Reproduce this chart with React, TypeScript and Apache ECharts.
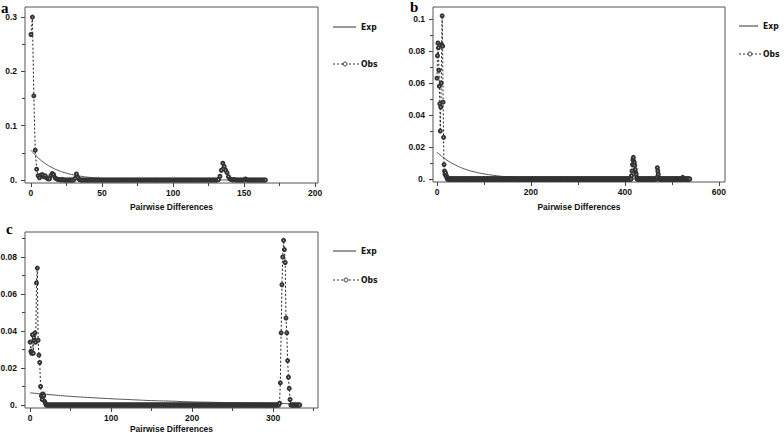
import React, { useEffect, useRef } from 'react';
import * as echarts from 'echarts';

// ---------- Panel a ----------
const obsA = [
  0.268, 0.3, 0.155, 0.055, 0.02, 0.008, 0.004, 0.009, 0.01, 0.006,
  0.008, 0.004, 0.002, 0.002, 0.008, 0.012, 0.01, 0.004, 0.002, 0.001,
  0.001, 0, 0.001, 0, 0, 0, 0, 0, 0, 0,
  0, 0.003, 0.011, 0.005, 0.001, 0, 0, 0, 0, 0,
  0, 0, 0, 0, 0, 0, 0, 0, 0, 0,
  0, 0, 0, 0, 0, 0, 0, 0, 0, 0,
  0, 0, 0, 0, 0, 0, 0, 0, 0, 0,
  0, 0, 0, 0, 0, 0, 0, 0, 0, 0,
  0, 0, 0, 0, 0, 0, 0, 0, 0, 0,
  0, 0, 0, 0, 0, 0, 0, 0, 0, 0,
  0, 0, 0, 0, 0, 0, 0, 0, 0, 0,
  0, 0, 0, 0, 0, 0, 0, 0, 0, 0,
  0, 0, 0, 0, 0, 0, 0, 0, 0, 0,
  0, 0, 0.001, 0.007, 0.018, 0.031, 0.025, 0.018, 0.0135, 0.006,
  0.002, 0.001, 0, 0.001, 0, 0, 0, 0, 0, 0,
  0, 0.002, 0, 0, 0, 0, 0, 0, 0, 0,
  0, 0, 0, 0, 0, 0,
];
const expAX = [0, 5, 10, 15, 20, 25, 30, 35, 40, 45, 50, 55, 60, 70, 80, 100, 165];
const expAY = [0.055, 0.041, 0.0305, 0.0227, 0.0169, 0.0126, 0.0094, 0.007, 0.0052, 0.0039, 0.0029, 0.0021, 0.0016, 0.0009, 0.0005, 0.0002, 0];
const xTicksA = [0, 50, 100, 150, 200];
const xMinorA = [25, 75, 125, 175];
const yTicksA = [0, 0.1, 0.2, 0.3];
const yMinorA = [0.05, 0.15, 0.25];

// ---------- Panel b ----------
const obsB = [
  0.063, 0.077, 0.085, 0.082, 0.068, 0.058, 0.047, 0.03, 0.045, 0.06,
  0.084, 0.102, 0.083, 0.048, 0.026, 0.009, 0.005, 0.003, 0.004, 0.002,
  0.002, 0.001, 0, 0, 0, 0, 0, 0, 0, 0,
  0, 0, 0, 0, 0, 0, 0, 0, 0, 0,
  0, 0, 0, 0, 0, 0, 0, 0, 0, 0,
  0, 0, 0, 0, 0, 0, 0, 0, 0, 0,
  0, 0, 0, 0, 0, 0, 0, 0, 0, 0,
  0, 0, 0, 0, 0, 0, 0, 0, 0, 0,
  0, 0, 0, 0, 0, 0, 0, 0, 0, 0,
  0, 0, 0, 0, 0, 0, 0, 0, 0, 0,
  0, 0, 0, 0, 0, 0, 0, 0, 0, 0,
  0, 0, 0, 0, 0, 0, 0, 0, 0, 0,
  0, 0, 0, 0, 0, 0, 0, 0, 0, 0,
  0, 0, 0, 0, 0, 0, 0, 0, 0, 0,
  0, 0, 0, 0, 0, 0, 0, 0, 0, 0,
  0, 0, 0, 0, 0, 0, 0, 0, 0, 0,
  0, 0, 0, 0, 0, 0, 0, 0, 0, 0,
  0, 0, 0, 0, 0, 0, 0, 0, 0, 0,
  0, 0, 0, 0, 0, 0, 0, 0, 0, 0,
  0, 0, 0, 0, 0, 0, 0, 0, 0, 0,
  0, 0, 0, 0, 0, 0, 0, 0, 0, 0,
  0, 0, 0, 0, 0, 0, 0, 0, 0, 0,
  0, 0, 0, 0, 0, 0, 0, 0, 0, 0,
  0, 0, 0, 0, 0, 0, 0, 0, 0, 0,
  0, 0, 0, 0, 0, 0, 0, 0, 0, 0,
  0, 0, 0, 0, 0, 0, 0, 0, 0, 0,
  0, 0, 0, 0, 0, 0, 0, 0, 0, 0,
  0, 0, 0, 0, 0, 0, 0, 0, 0, 0,
  0, 0, 0, 0, 0, 0, 0, 0, 0, 0,
  0, 0, 0, 0, 0, 0, 0, 0, 0, 0,
  0, 0, 0, 0, 0, 0, 0, 0, 0, 0,
  0, 0, 0, 0, 0, 0, 0, 0, 0, 0,
  0, 0, 0, 0, 0, 0, 0, 0, 0, 0,
  0, 0, 0, 0, 0, 0, 0, 0, 0, 0,
  0, 0, 0, 0, 0, 0, 0, 0, 0, 0,
  0, 0, 0, 0, 0, 0, 0, 0, 0, 0,
  0, 0, 0, 0, 0, 0, 0, 0, 0, 0,
  0, 0, 0, 0, 0, 0, 0, 0, 0, 0,
  0, 0, 0, 0, 0, 0, 0, 0, 0, 0,
  0, 0, 0, 0, 0, 0, 0, 0, 0, 0,
  0, 0, 0, 0, 0, 0, 0, 0, 0, 0,
  0, 0, 0, 0, 0.002, 0.005, 0.009, 0.012, 0.0135, 0.011,
  0.01, 0.0085, 0.006, 0.004, 0.003, 0.001, 0, 0, 0, 0,
  0, 0, 0, 0, 0, 0, 0, 0, 0, 0,
  0, 0, 0, 0, 0, 0, 0, 0, 0, 0,
  0, 0, 0, 0, 0, 0, 0, 0, 0, 0,
  0, 0, 0, 0, 0, 0, 0, 0, 0.001, 0.007,
  0.005, 0.003, 0.001, 0, 0, 0, 0, 0, 0, 0,
  0, 0, 0, 0, 0, 0, 0, 0, 0, 0,
  0, 0, 0, 0, 0, 0, 0, 0, 0, 0,
  0, 0, 0, 0, 0, 0, 0, 0, 0, 0,
  0, 0, 0, 0, 0, 0, 0, 0, 0, 0,
  0, 0, 0, 0.001, 0, 0, 0, 0, 0, 0,
  0, 0, 0, 0, 0, 0, 0, 0, 0,
];
const expBX = [0, 20, 40, 60, 80, 100, 120, 140, 160, 180, 200, 250, 300, 530];
const expBY = [0.0167, 0.012, 0.0086, 0.0061, 0.0044, 0.0032, 0.0023, 0.0016, 0.0012, 0.0008, 0.0006, 0.0002, 0.0001, 0];
const xTicksB = [0, 200, 400, 600];
const xMinorB = [100, 300, 500];
const yTicksB = [0, 0.02, 0.04, 0.06, 0.08, 0.1];
const yMinorB = [0.01, 0.03, 0.05, 0.07, 0.09];

// ---------- Panel c ----------
const obsC = [
  0.034, 0.029, 0.028, 0.038, 0.028, 0.035, 0.039, 0.034, 0.066, 0.074,
  0.035, 0.027, 0.023, 0.01, 0.005, 0.003, 0.006, 0.005, 0.002, 0.001,
  0, 0, 0, 0, 0, 0, 0, 0, 0, 0,
  0, 0, 0, 0, 0, 0, 0, 0, 0, 0,
  0, 0, 0, 0, 0, 0, 0, 0, 0, 0,
  0, 0, 0, 0, 0, 0, 0, 0, 0, 0,
  0, 0, 0, 0, 0, 0, 0, 0, 0, 0,
  0, 0, 0, 0, 0, 0, 0, 0, 0, 0,
  0, 0, 0, 0, 0, 0, 0, 0, 0, 0,
  0, 0, 0, 0, 0, 0, 0, 0, 0, 0,
  0, 0, 0, 0, 0, 0, 0, 0, 0, 0,
  0, 0, 0, 0, 0, 0, 0, 0, 0, 0,
  0, 0, 0, 0, 0, 0, 0, 0, 0, 0,
  0, 0, 0, 0, 0, 0, 0, 0, 0, 0,
  0, 0, 0, 0, 0, 0, 0, 0, 0, 0,
  0, 0, 0, 0, 0, 0, 0, 0, 0, 0,
  0, 0, 0, 0, 0, 0, 0, 0, 0, 0,
  0, 0, 0, 0, 0, 0, 0, 0, 0, 0,
  0, 0, 0, 0, 0, 0, 0, 0, 0, 0,
  0, 0, 0, 0, 0, 0, 0, 0, 0, 0,
  0, 0, 0, 0, 0, 0, 0, 0, 0, 0,
  0, 0, 0, 0, 0, 0, 0, 0, 0, 0,
  0, 0, 0, 0, 0, 0, 0, 0, 0, 0,
  0, 0, 0, 0, 0, 0, 0, 0, 0, 0,
  0, 0, 0, 0, 0, 0, 0, 0, 0, 0,
  0, 0, 0, 0, 0, 0, 0, 0, 0, 0,
  0, 0, 0, 0, 0, 0, 0, 0, 0, 0,
  0, 0, 0, 0, 0, 0, 0, 0, 0, 0,
  0, 0, 0, 0, 0, 0, 0, 0, 0, 0,
  0, 0, 0, 0, 0, 0, 0, 0, 0, 0,
  0, 0, 0, 0, 0, 0, 0, 0, 0.001, 0.012,
  0.039, 0.065, 0.08, 0.089, 0.084, 0.077, 0.047, 0.039, 0.024, 0.015,
  0.009, 0.003, 0, 0, 0, 0, 0, 0, 0, 0,
  0, 0, 0, 0,
];
const expCX = [0, 25, 50, 75, 100, 125, 150, 175, 200, 225, 250, 275, 300, 330];
const expCY = [0.0066, 0.0056, 0.0047, 0.004, 0.0034, 0.0029, 0.0024, 0.0021, 0.0017, 0.0015, 0.0012, 0.0011, 0.0009, 0.0007];
const xTicksC = [0, 100, 200, 300];
const xMinorC = [50, 150, 250, 350];
const yTicksC = [0, 0.02, 0.04, 0.06, 0.08];
const yMinorC = [0.01, 0.03, 0.05, 0.07, 0.09];

const panelLetters = ['a', 'b', 'c'];
const xAxisTitle = 'Pairwise Differences';
const seriesNames = ['Exp', 'Obs'];

const FONT = "'Liberation Sans', Arial, sans-serif";
const NARROW = "'Liberation Sans Narrow', 'DejaVu Sans Condensed', 'Liberation Sans', sans-serif";

export default function App() {
  const ref = useRef<HTMLDivElement>(null);
  useEffect(() => {
    if (!ref.current) return;
    const chart = echarts.init(ref.current, null, { renderer: 'svg' });

    const panels = [
      { grid: { left: 25, top: 7, width: 293, height: 176 }, xMin: -4.2, xMax: 202, yMin: -0.0055, yMax: 0.3186,
        xT: xTicksA, xM: xMinorA, yT: yTicksA, yM: yMinorA, obs: obsA, ex: expAX, ey: expAY, nameGap: 19,
        leg: { x1: 333, x2: 356, tx: 361, y1: 27, y2: 64, cx: 345 } },
      { grid: { left: 433, top: 7, width: 292, height: 175 }, xMin: -8.5, xMax: 613, yMin: -0.0019, yMax: 0.1075,
        xT: xTicksB, xM: xMinorB, yT: yTicksB, yM: yMinorB, obs: obsB, ex: expBX, ey: expBY, nameGap: 20,
        leg: { x1: 739, x2: 758, tx: 763, y1: 26, y2: 54, cx: 750 } },
      { grid: { left: 25, top: 232, width: 293, height: 176 }, xMin: -6.2, xMax: 355.5, yMin: -0.0016, yMax: 0.0935,
        xT: xTicksC, xM: xMinorC, yT: yTicksC, yM: yMinorC, obs: obsC, ex: expCX, ey: expCY, nameGap: 16,
        leg: { x1: 333, x2: 356, tx: 361, y1: 251, y2: 280, cx: 346 } },
    ];

    const labelStyle = { fontFamily: FONT, fontWeight: 'bold' as const, fontSize: 8.5, color: '#111' };
    const grids: any[] = [];
    const xAxes: any[] = [];
    const yAxes: any[] = [];
    const series: any[] = [];
    const graphics: any[] = [];
    const legendFont = `bold 8.5px ${NARROW}`;

    panels.forEach((p, i) => {
      grids.push({ ...p.grid, show: true, borderColor: '#555', borderWidth: 1, backgroundColor: 'transparent', containLabel: false, outerBoundsMode: 'none' });
      const xi = xAxes.length;
      const yi = yAxes.length;
      xAxes.push({
        type: 'value', gridIndex: i, position: 'bottom', min: p.xMin, max: p.xMax,
        axisLine: { show: false, onZero: false },
        axisTick: { show: true, length: 4, customValues: p.xT, lineStyle: { color: '#444' } },
        axisLabel: { show: true, customValues: p.xT, margin: 5, ...labelStyle, formatter: (v: number) => String(v) },
        splitLine: { show: false },
        name: xAxisTitle, nameLocation: 'middle', nameGap: p.nameGap,
        nameTextStyle: { fontFamily: FONT, fontWeight: 'bold', fontSize: 8.5, color: '#111' },
      });
      xAxes.push({
        type: 'value', gridIndex: i, position: 'bottom', min: p.xMin, max: p.xMax,
        axisLine: { show: false, onZero: false },
        axisTick: { show: true, length: 3, customValues: p.xM, lineStyle: { color: '#444' } },
        axisLabel: { show: false },
        splitLine: { show: false },
      });
      yAxes.push({
        type: 'value', gridIndex: i, position: 'left', min: p.yMin, max: p.yMax,
        axisLine: { show: false, onZero: false },
        axisTick: { show: true, length: 4, customValues: p.yT, lineStyle: { color: '#444' } },
        axisLabel: { show: true, customValues: p.yT, margin: 8, ...labelStyle,
          formatter: (v: number) => (Math.abs(v) < 1e-9 ? '0.' : String(+v.toFixed(3))) },
        splitLine: { show: false },
      });
      yAxes.push({
        type: 'value', gridIndex: i, position: 'left', min: p.yMin, max: p.yMax,
        axisLine: { show: false, onZero: false },
        axisTick: { show: true, length: 3, customValues: p.yM, lineStyle: { color: '#444' } },
        axisLabel: { show: false },
        splitLine: { show: false },
      });
      series.push({
        name: seriesNames[0], type: 'line', xAxisIndex: xi, yAxisIndex: yi,
        data: p.ex.map((x, k) => [x, p.ey[k]]), smooth: true, showSymbol: false, symbol: 'none',
        lineStyle: { color: '#555', width: 1 }, itemStyle: { color: '#555' }, z: 2,
      });
      series.push({
        name: seriesNames[1], type: 'line', xAxisIndex: xi, yAxisIndex: yi,
        data: p.obs.map((v, k) => [k, v]), symbol: 'emptyCircle', symbolSize: 3, showSymbol: true, showAllSymbol: true,
        lineStyle: { color: '#222', width: 1, type: [2, 2] },
        itemStyle: { color: '#333', borderColor: '#333', borderWidth: 0.8 }, z: 3,
      });

      const L = p.leg;
      graphics.push(
        { type: 'line', shape: { x1: L.x1, y1: L.y1, x2: L.x2, y2: L.y1 }, style: { stroke: '#333', lineWidth: 1 } },
        { type: 'text', x: L.tx, y: L.y1, style: { text: seriesNames[0], font: legendFont, fill: '#111', verticalAlign: 'middle' } },
        { type: 'line', shape: { x1: L.x1, y1: L.y2, x2: L.x2 + 3, y2: L.y2 }, style: { stroke: '#333', lineWidth: 1, lineDash: [2, 2] } },
        { type: 'circle', shape: { cx: L.cx, cy: L.y2, r: 2 }, style: { fill: '#fff', stroke: '#333', lineWidth: 1 } },
        { type: 'text', x: L.tx, y: L.y2, style: { text: seriesNames[1], font: legendFont, fill: '#111', verticalAlign: 'middle' } },
      );
    });

    const letterFont = "bold 15px 'Liberation Serif', 'DejaVu Serif', serif";
    graphics.push(
      { type: 'text', left: 1, top: 0, style: { text: panelLetters[0], font: letterFont, fill: '#000' } },
      { type: 'text', left: 410, top: -1, style: { text: panelLetters[1], font: letterFont, fill: '#000' } },
      { type: 'text', left: 6, top: 221, style: { text: panelLetters[2], font: letterFont, fill: '#000' } },
    );

    chart.setOption({
      animation: false,
      backgroundColor: '#fff',
      grid: grids,
      xAxis: xAxes,
      yAxis: yAxes,
      series,
      graphic: graphics,
    });

    return () => chart.dispose();
  }, []);

  return <div ref={ref} style={{ position: 'fixed', left: 0, top: 0, width: 784, height: 433 }} />;
}
